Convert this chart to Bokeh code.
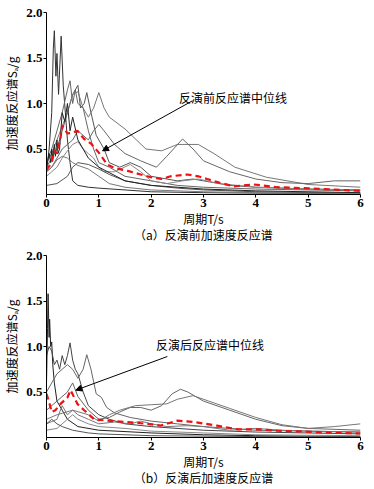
from bokeh.plotting import figure
from bokeh.layouts import column
from bokeh.models import FixedTicker, Label, Arrow, NormalHead, Range1d, PrintfTickFormatter
from bokeh.embed import file_html
from bokeh.resources import INLINE

# ---------------- data: (a) before inversion ----------------
a_T1 = [0, 0.05, 0.1, 0.13, 0.15, 0.18, 0.2, 0.23, 0.28, 0.32, 0.36, 0.4, 0.45, 0.5, 0.6, 0.8, 1.0, 1.5, 2, 3, 4, 6]
a_S1 = [0.25, 0.5, 0.9, 1.6, 1.8, 1.3, 1.55, 1.1, 1.74, 1.2, 0.9, 0.6, 0.35, 0.15, 0.1, 0.08, 0.07, 0.05, 0.03, 0.02, 0.015, 0.01]
a_T2 = [0, 0.1, 0.2, 0.3, 0.4, 0.45, 0.5, 0.55, 0.6, 0.7, 0.8, 0.9, 1.0, 1.2, 1.5, 2.0, 2.5, 3, 4, 5, 6]
a_S2 = [0.35, 0.5, 0.7, 0.9, 1.15, 1.25, 1.0, 1.15, 1.0, 0.95, 0.7, 0.5, 0.35, 0.3, 0.2, 0.15, 0.1, 0.08, 0.06, 0.05, 0.04]
a_T3 = [0, 0.1, 0.2, 0.3, 0.4, 0.5, 0.6, 0.65, 0.72, 0.77, 0.85, 0.95, 1.1, 1.2, 1.4, 1.6, 1.8, 2.0, 2.5, 2.8, 3.0, 3.5, 4, 5, 6]
a_S3 = [0.3, 0.4, 0.5, 0.7, 0.9, 1.1, 1.2, 0.95, 1.0, 1.12, 0.9, 0.65, 0.5, 0.35, 0.3, 0.35, 0.3, 0.2, 0.15, 0.17, 0.15, 0.1, 0.08, 0.06, 0.05]
a_T4 = [0, 0.1, 0.2, 0.3, 0.4, 0.5, 0.6, 0.7, 0.8, 0.9, 1.0, 1.1, 1.2, 1.5, 1.9, 2.2, 2.5, 2.9, 3.2, 3.6, 4.2, 5.0, 6]
a_S4 = [0.35, 0.45, 0.6, 0.75, 0.9, 1.1, 1.13, 0.95, 0.85, 0.95, 1.12, 0.95, 0.85, 0.72, 0.5, 0.48, 0.55, 0.55, 0.45, 0.3, 0.19, 0.11, 0.08]
a_T5 = [0, 0.1, 0.2, 0.3, 0.4, 0.5, 0.6, 0.7, 0.8, 0.9, 1.0, 1.1, 1.3, 1.5, 1.8, 2.1, 2.3, 2.6, 2.8, 3.0, 3.5, 4.0, 4.5, 5.0, 5.5, 6]
a_S5 = [0.25, 0.3, 0.4, 0.5, 0.55, 0.6, 0.7, 0.65, 0.6, 0.7, 0.77, 0.7, 0.55, 0.45, 0.37, 0.3, 0.42, 0.61, 0.5, 0.37, 0.25, 0.17, 0.13, 0.12, 0.15, 0.15]
a_T6 = [0, 0.1, 0.2, 0.3, 0.4, 0.5, 0.6, 0.7, 0.8, 0.9, 1.0, 1.1, 1.3, 1.6, 1.8, 2.0, 2.3, 2.6, 2.9, 3.3, 4, 5, 6]
a_S6 = [0.2, 0.25, 0.3, 0.4, 0.48, 0.55, 0.58, 0.5, 0.45, 0.4, 0.3, 0.25, 0.25, 0.33, 0.25, 0.15, 0.12, 0.15, 0.17, 0.12, 0.08, 0.06, 0.05]
a_T7 = [0, 0.2, 0.4, 0.5, 0.6, 0.8, 1.0, 1.2, 1.5, 2, 2.5, 3, 4, 5, 6]
a_S7 = [0.1, 0.12, 0.2, 0.3, 0.35, 0.33, 0.28, 0.22, 0.15, 0.1, 0.07, 0.05, 0.03, 0.02, 0.015]
a_T8 = [0, 0.1, 0.2, 0.3, 0.4, 0.5, 0.6, 0.8, 1.0, 1.2, 1.5, 2, 3, 4, 6]
a_S8 = [0.25, 0.3, 0.38, 0.42, 0.4, 0.35, 0.32, 0.28, 0.2, 0.12, 0.08, 0.05, 0.03, 0.02, 0.01]
a_T9 = [0, 0.05, 0.08, 0.1, 0.12, 0.15, 0.17, 0.2, 0.22, 0.25, 0.3, 0.35, 0.4, 0.45, 0.5, 0.6, 0.8, 1, 1.5, 2, 3, 4, 6]
a_S9 = [0.3, 0.45, 0.35, 0.5, 0.4, 0.55, 0.42, 0.6, 0.45, 0.5, 0.9, 0.8, 1.0, 0.7, 0.85, 0.6, 0.4, 0.3, 0.15, 0.1, 0.06, 0.04, 0.02]
a_medT = [0, 0.1, 0.15, 0.2, 0.27, 0.3, 0.4, 0.5, 0.59, 0.72, 0.85, 1.0, 1.16, 1.3, 1.55, 1.8, 1.99, 2.2, 2.37, 2.69, 2.9, 3.07, 3.3, 3.58, 3.96, 4.4, 5.04, 5.49, 6]
a_medS = [0.27, 0.35, 0.48, 0.45, 0.63, 0.76, 0.67, 0.68, 0.70, 0.61, 0.56, 0.46, 0.33, 0.29, 0.26, 0.22, 0.19, 0.17, 0.2, 0.22, 0.2, 0.17, 0.13, 0.09, 0.11, 0.08, 0.067, 0.055, 0.04]

# ---------------- data: (b) after inversion ----------------
b_T1 = [0, 0.02, 0.03, 0.05, 0.06, 0.08, 0.1, 0.12, 0.15, 0.2, 0.3, 0.4, 0.6, 1.0, 2, 3, 4, 6]
b_S1 = [0.6, 1.2, 1.58, 1.1, 1.3, 1.0, 1.05, 0.8, 0.6, 0.4, 0.3, 0.2, 0.12, 0.08, 0.05, 0.03, 0.02, 0.01]
b_T2 = [0, 0.05, 0.1, 0.15, 0.2, 0.25, 0.3, 0.35, 0.4, 0.45, 0.5, 0.55, 0.6, 0.7, 0.8, 1.0, 1.2, 1.5, 2, 3, 4, 6]
b_S2 = [0.9, 1.0, 0.95, 0.8, 0.85, 0.75, 0.9, 0.8, 0.9, 1.04, 0.85, 0.75, 0.7, 0.5, 0.35, 0.25, 0.2, 0.15, 0.12, 0.08, 0.06, 0.04]
b_T3 = [0, 0.1, 0.2, 0.3, 0.4, 0.5, 0.6, 0.7, 0.77, 0.85, 0.95, 1.05, 1.15, 1.3, 1.6, 2.0, 2.5, 3, 3.5, 4, 5, 6]
b_S3 = [0.5, 0.6, 0.7, 0.75, 0.8, 0.75, 0.65, 0.75, 0.91, 0.75, 0.48, 0.44, 0.33, 0.27, 0.22, 0.18, 0.15, 0.12, 0.1, 0.08, 0.07, 0.06]
b_T4 = [0, 0.2, 0.4, 0.5, 0.6, 0.8, 1.0, 1.2, 1.4, 1.6, 1.8, 2.0, 2.2, 2.4, 2.56, 2.7, 3.0, 3.5, 4.0, 4.5, 5.0, 6]
b_S4 = [0.3, 0.4, 0.5, 0.6, 0.45, 0.3, 0.2, 0.22, 0.28, 0.33, 0.33, 0.3, 0.35, 0.48, 0.53, 0.5, 0.4, 0.3, 0.2, 0.13, 0.1, 0.08]
b_T5 = [0, 0.2, 0.5, 0.8, 1.0, 1.2, 1.4, 1.7, 2.0, 2.3, 2.5, 2.8, 3.1, 3.5, 4.0, 4.5, 5.0, 5.5, 6]
b_S5 = [0.2, 0.25, 0.3, 0.25, 0.18, 0.25, 0.3, 0.35, 0.36, 0.37, 0.42, 0.46, 0.4, 0.32, 0.22, 0.14, 0.1, 0.12, 0.15]
b_T6 = [0, 0.2, 0.3, 0.4, 0.5, 0.6, 0.8, 1.0, 1.3, 1.6, 1.8, 2.0, 2.3, 2.7, 3.0, 3.5, 4.0, 4.5, 5, 6]
b_S6 = [0.15, 0.2, 0.35, 0.25, 0.3, 0.25, 0.2, 0.15, 0.17, 0.15, 0.18, 0.15, 0.12, 0.13, 0.12, 0.08, 0.1, 0.08, 0.07, 0.06]
b_T7 = [0, 0.2, 0.4, 0.5, 0.6, 0.8, 1.0, 1.5, 2, 3, 4, 6]
b_S7 = [0.08, 0.1, 0.2, 0.25, 0.2, 0.15, 0.12, 0.1, 0.07, 0.05, 0.03, 0.02]
b_T8 = [0, 0.1, 0.2, 0.3, 0.5, 0.8, 1, 2, 4, 6]
b_S8 = [0.15, 0.2, 0.15, 0.12, 0.08, 0.05, 0.04, 0.02, 0.01, 0.01]
b_medT = [0, 0.05, 0.1, 0.17, 0.27, 0.4, 0.46, 0.59, 0.72, 0.91, 1.16, 1.55, 1.93, 2.18, 2.5, 2.82, 3.26, 3.65, 4.03, 4.41, 4.85, 5.36, 6]
b_medS = [0.48, 0.39, 0.28, 0.3, 0.37, 0.44, 0.52, 0.37, 0.3, 0.2, 0.185, 0.17, 0.15, 0.13, 0.185, 0.17, 0.13, 0.09, 0.09, 0.074, 0.067, 0.055, 0.044]

x_ticks = [0, 1, 2, 3, 4, 5, 6]
y_ticks = [0.5, 1.0, 1.5, 2.0]

CJK = "Noto Sans CJK SC"
NUM = "Liberation Serif"


def make(curves, colors, medT, medS, note, note_xy, arr, caption, h, top):
    p = figure(width=374, height=h, output_backend="svg", toolbar_location=None,
               x_range=Range1d(0, 6), y_range=Range1d(0, 2.0),
               min_border_left=46, min_border_right=14, min_border_top=top,
               min_border_bottom=0)
    p.outline_line_color = None
    p.xgrid.visible = False
    p.ygrid.visible = False
    for (t, s), c in zip(curves, colors):
        p.line(t, s, line_color=c, line_width=1)
    p.line(medT, medS, line_color="#ee1111", line_width=2.2, line_dash="6 4")
    p.add_layout(Arrow(end=NormalHead(size=6, fill_color="black", line_color="black"),
                       x_start=arr[0], y_start=arr[1], x_end=arr[2], y_end=arr[3],
                       line_color="black", line_width=1))
    p.add_layout(Label(x=note_xy[0], y=note_xy[1], text=note, text_font=CJK,
                       text_font_size="12px", text_baseline="middle", text_color="black"))
    for ax in (p.xaxis[0], p.yaxis[0]):
        ax.major_tick_out = 3
        ax.major_tick_in = 0
        ax.minor_tick_line_color = None
        ax.major_label_text_font = NUM
        ax.major_label_text_font_style = "bold"
        ax.major_label_text_font_size = "13px"
        ax.major_label_text_color = "black"
        ax.axis_label_text_font = CJK
        ax.axis_label_text_font_style = "normal"
        ax.axis_label_text_font_size = "12px"
        ax.axis_label_text_color = "black"
        ax.axis_line_color = "black"
        ax.major_tick_line_color = "black"
    p.xaxis.ticker = FixedTicker(ticks=x_ticks)
    p.yaxis.ticker = FixedTicker(ticks=y_ticks)
    p.yaxis.formatter = PrintfTickFormatter(format="%.1f")
    p.xaxis.axis_label = "周期T/s\n" + caption
    p.xaxis.axis_label_text_line_height = 0.95
    p.yaxis.axis_label = "加速度反应谱Sₐ/g"
    p.yaxis.axis_label_text_line_height = 1.0
    p.xaxis.major_label_standoff = 1
    p.yaxis.major_label_standoff = 1
    p.xaxis.axis_label_standoff = 0
    p.yaxis.axis_label_standoff = 3
    return p


cols_a = ["#333333", "#666666", "#555555", "#777777", "#666666", "#888888", "#555555", "#777777", "#222222"]
curves_a = [(a_T1, a_S1), (a_T2, a_S2), (a_T3, a_S3), (a_T4, a_S4), (a_T5, a_S5),
            (a_T6, a_S6), (a_T7, a_S7), (a_T8, a_S8), (a_T9, a_S9)]
p1 = make(curves_a, cols_a, a_medT, a_medS, "反演前反应谱中位线", (2.53, 1.07),
          (2.79, 1.03, 1.07, 0.48), "（a）反演前加速度反应谱", 245, 12)

cols_b = ["#222222", "#444444", "#666666", "#666666", "#777777", "#777777", "#888888", "#555555"]
curves_b = [(b_T1, b_S1), (b_T2, b_S2), (b_T3, b_S3), (b_T4, b_S4), (b_T5, b_S5),
            (b_T6, b_S6), (b_T7, b_S7), (b_T8, b_S8)]
p2 = make(curves_b, cols_b, b_medT, b_medS, "反演后反应谱中位线", (2.09, 1.02),
          (2.31, 0.89, 0.56, 0.52), "（b）反演后加速度反应谱", 243, 10)

layout = column(p1, p2, spacing=0)
open("out.html", "w").write(file_html(layout, INLINE))
